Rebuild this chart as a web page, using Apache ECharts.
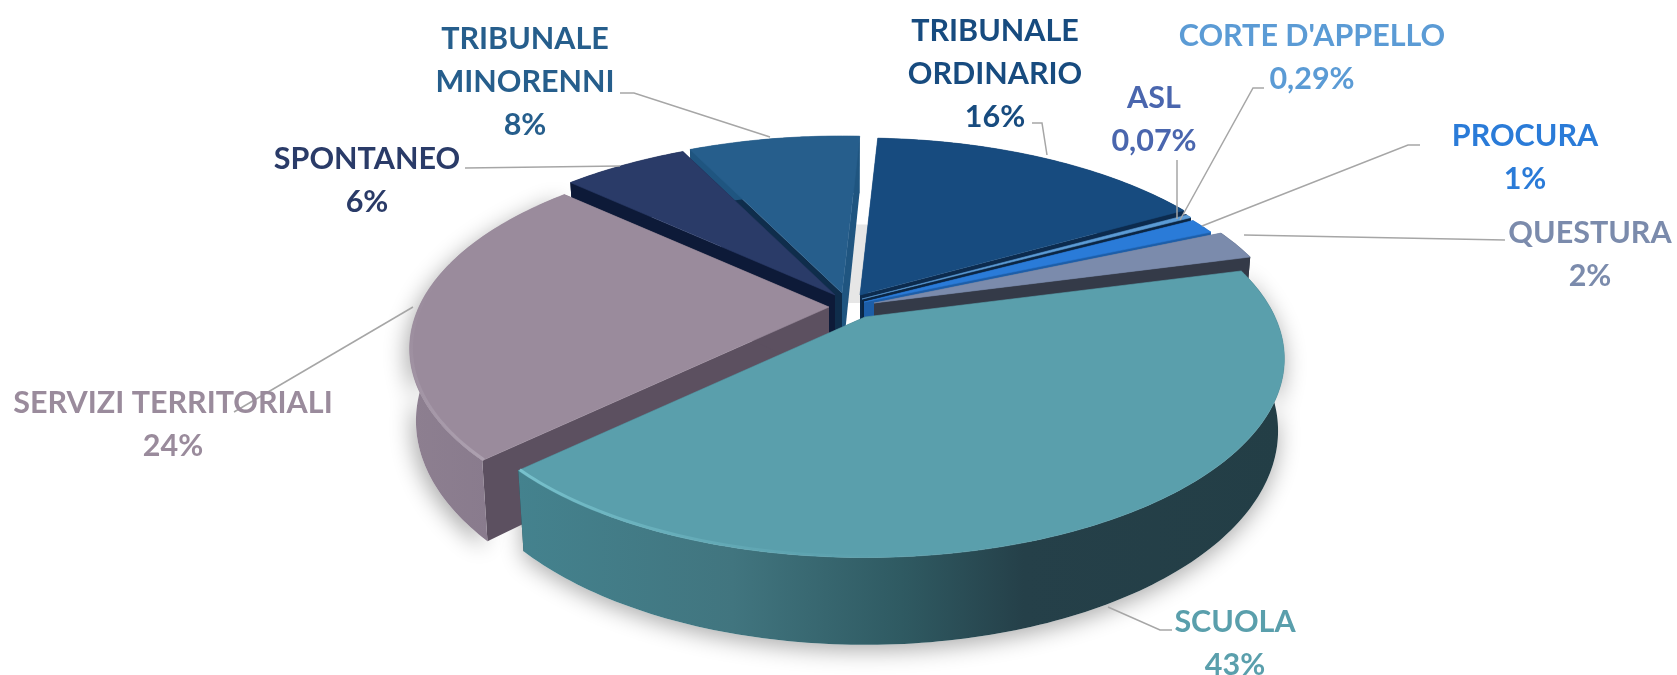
<!DOCTYPE html>
<html><head><meta charset="utf-8">
<style>html,body{margin:0;padding:0;background:#fff}#c{width:1677px;height:675px}</style>
<script src="https://cdn.jsdelivr.net/npm/echarts@6/dist/echarts.min.js"></script>
</head><body><div id="c"></div>
<script>
// ---- data ----
const categories = ['TRIBUNALE\nORDINARIO','ASL',"CORTE D'APPELLO",'PROCURA','QUESTURA','SCUOLA','SERVIZI TERRITORIALI','SPONTANEO','TRIBUNALE\nMINORENNI'];
const values = [16.2,0.07,0.29,1.3,2.45,42.5,24.25,6,8.2];
const percentLabels = ['16%','0,07%','0,29%','1%','2%','43%','24%','6%','8%'];

// ---- styling / layout ----
const topColors  = ['#174b7f','#0e2e52','#5b9bd5','#2a7bd8','#7b8bac','#5a9fac','#9a8b9c','#2a3b68','#265e8c'];
const textColors = ['#174b7f','#4a66ae','#5b9bd5','#2a7bd8','#7b8bac','#5a9fac','#9a8b9c','#2a3b68','#265e8c'];
const startWalls = ['#174b7f','#0b2644','#0b2644','#1d5ea8','#5f6b85','#233f47','#5c5060','#0d1a38','#0f2d4b'];
const endWalls   = ['#0c2b4e','#0b2644','#0b2644','#1d5ea8','#343a48','#233f47','#5c5060','#0d1a38','#1f5580'];
const sideFills = {
  5:[[0,'#44828e'],[0.28,'#41757f'],[0.5,'#2f5a62'],[0.66,'#254049'],[1,'#233e46']],
  6:[[0,'#8d7f90'],[1,'#85778a']]
};
const apexes = [[860,295],[862,299],[862,299],[864,302],[874,303],[865,317],[829,307],[835,295],[842,293]];
const drawOrder = [8,0,1,2,3,4,7,6,5];
const labelCenters = [[995,31],[1154,98],[1312,36],[1525,136],[1590,233],[1235,622],[173,403],[367,159],[525,39.5]];
const leaders = [
  [[1032,123],[1042,123],[1047,155]],
  [[1177,160],[1177,219]],
  [[1264,88],[1253,88],[1180,220]],
  [[1420,145],[1408,145],[1202,226]],
  [[1505,240],[1244,235]],
  [[1172,630],[1160,630],[1108,607]],
  [[234,412],[413,307]],
  [[465,168],[620,166]],
  [[620,93],[634,93],[770,137]]
];
const RX = 410, RY = 190, K = 0.21, DEPTH = 69, ROT = 3, LINE = 43, DROP_SCALE = 0.985;
const FONT = 'bold 30.5px Lato, "Open Sans", sans-serif';

const total = values.reduce((a,b)=>a+b,0);
const starts = []; values.reduce((acc,v,i)=>{starts[i]=acc;return acc+v;},0);
const ang = s => (s/total*360 + ROT)*Math.PI/180;

function proj(a, r, ap, drop){
  const u = r*Math.sin(a), v = -r*Math.cos(a), w = 1-K*v;
  return [ap[0]+RX*u/w*(drop?DROP_SCALE:1), ap[1]+RY*v/w+(drop?DEPTH/w:0)];
}
function arc(a0,a1,r,ap,drop){
  const n = Math.max(2,Math.ceil((a1-a0)*180/Math.PI)), pts=[];
  for(let i=0;i<=n;i++) pts.push(proj(a0+(a1-a0)*i/n,r,ap,drop));
  return pts;
}
const lg = (stops,x1,y1)=>new echarts.graphic.LinearGradient(0,0,x1,y1,stops.map(s=>({offset:s[0],color:s[1]})));

function renderItem(params, api){
  const i = params.dataIndex, rank = drawOrder.indexOf(i)*10+10, ap = apexes[i];
  const a0 = ang(starts[i]), a1 = ang(starts[i]+api.value(0));
  const top = arc(a0,a1,1,ap,false), low = arc(a0,a1,1,ap,true);
  const side = top.concat(low.slice().reverse());
  const apD = [ap[0],ap[1]+DEPTH];
  const kids = [];
  const poly = (points,fill,z2,extra)=>kids.push(Object.assign({type:'polygon',shape:{points},style:{fill},z2,silent:true},extra||{}));
  if(i===5||i===6){ // soft floor shadow
    poly(side,'#ffffff',1,{style:{fill:'#ffffff',shadowColor:'rgba(0,0,0,0.32)',shadowBlur:22,shadowOffsetY:6,shadowOffsetX:i===6?-4:0}});
  }
  if(i===0){ // light strip in the gap between the two tribunal slices
    const p=[ap[0]+(top[0][0]-ap[0])*0.45, ap[1]+(top[0][1]-ap[1])*0.45];
    poly([p,[p[0]-15,p[1]],[ap[0]-15,ap[1]+8],[ap[0],ap[1]+8]],'#e6e6e6',2);
  }
  poly([top[0],ap,apD,low[0]],startWalls[i],rank);
  poly([top[top.length-1],ap,apD,low[low.length-1]],endWalls[i],rank+1);
  poly(side,sideFills[i]?lg(sideFills[i],1,0):endWalls[i],rank+2);
  poly([ap].concat(top),topColors[i],rank+3,{style:{fill:topColors[i],stroke:topColors[i],lineWidth:0.6}});
  if(i===5){
    kids.push({type:'polyline',shape:{points:arc(a1-1.0,a1,0.996,ap,false)},silent:true,z2:rank+4,
      style:{fill:null,lineWidth:3,stroke:lg([[0,'#78c2cd'],[1,'rgba(90,159,172,0)']],1,0)}});
  }
  if(i===6){
    kids.push({type:'polyline',shape:{points:arc(a0,a0+1.1,0.996,ap,false)},silent:true,z2:rank+4,
      style:{fill:null,lineWidth:3,stroke:lg([[0,'rgba(154,139,156,0)'],[1,'#ada1b0']],0,1)}});
  }
  // leader
  kids.push({type:'polyline',shape:{points:leaders[i]},silent:true,z2:200,style:{fill:null,stroke:'#a6a6a6',lineWidth:1.5}});
  // label
  const lines = categories[i].split('\n').concat(percentLabels[i]);
  lines.forEach((t,j)=>{
    kids.push({type:'text',x:labelCenters[i][0],y:labelCenters[i][1]+j*LINE,z2:210,silent:true,
      style:{text:t,font:FONT,fill:textColors[i],textAlign:'center',textVerticalAlign:'middle'}});
  });
  return {type:'group',children:kids};
}

const chart = echarts.init(document.getElementById('c'),null,{renderer:'canvas'});
chart.setOption({
  animation:false,
  backgroundColor:'#ffffff',
  series:[{type:'custom',coordinateSystem:'none',renderItem,data:values.map((v,i)=>({name:categories[i].replace('\n',' '),value:v})),silent:true}]
});
</script></body></html>
